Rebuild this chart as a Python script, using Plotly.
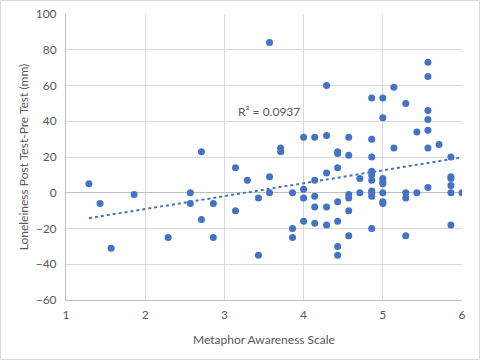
import numpy as np
import plotly.graph_objects as go

# Metaphor Awareness Scale (x) and Loneliness change (y)
x_vals = [1.29, 1.43, 1.57, 1.86, 2.29, 2.57, 2.57, 2.71, 2.71, 2.86, 2.86,
          3.14, 3.14, 3.29, 3.43, 3.43, 3.57, 3.57, 3.57, 3.71, 3.71,
          3.86, 3.86, 3.86, 4.0, 4.0, 4.0, 4.0,
          4.14, 4.14, 4.14, 4.14, 4.14,
          4.29, 4.29, 4.29, 4.29, 4.29,
          4.43, 4.43, 4.43, 4.43, 4.43, 4.43, 4.43,
          4.57, 4.57, 4.57, 4.57, 4.57, 4.57,
          4.71, 4.71,
          4.86, 4.86, 4.86, 4.86, 4.86, 4.86, 4.86, 4.86, 4.86, 4.86,
          5.0, 5.0, 5.0, 5.0, 5.0, 5.0, 5.0, 5.0,
          5.14, 5.14, 5.29, 5.29, 5.29, 5.29, 5.43, 5.43,
          5.57, 5.57, 5.57, 5.57, 5.57, 5.57, 5.57, 5.71,
          5.86, 5.86, 5.86, 5.86, 5.86, 5.86, 6.0]
y_vals = [5, -6, -31, -1, -25, 0, -6, 23, -15, -6, -25,
          14, -10, 7, -3, -35, 84, 9, 0, 25, 23,
          0, -20, -25, 31, 2, -3, -16,
          31, 7, -2, -8, -17,
          60, 32, 11, -8, -18,
          23, 22, 14, -5, -16, -30, -35,
          31, 21, -1, -3, -10, -24,
          8, 0,
          53, 30, 20, 12, 10, 7, 1, 0, -2, -20,
          53, 42, 8, 6, 5, 0, -5, -6,
          59, 25, 50, 0, -3, -24, 34, 0,
          73, 65, 46, 41, 35, 25, 3, 27,
          20, 9, 8, 4, 0, -18, 0]

x_ticks = [1, 2, 3, 4, 5, 6]
y_ticks = [-60, -40, -20, 0, 20, 40, 60, 80, 100]
r2_label = "R² = 0.0937"

xa = np.array(x_vals)
ya = np.array(y_vals)
slope, intercept = np.polyfit(xa, ya, 1)
tx = np.array([xa.min(), xa.max()])
ty = slope * tx + intercept

blue = "#4472C4"
grid = "#d9d9d9"
txt = "#595959"
font = "Lato"

fig = go.Figure()
fig.add_trace(go.Scatter(x=list(tx), y=list(ty), mode="lines",
                         line=dict(color=blue, width=2, dash="dot"),
                         hoverinfo="skip", showlegend=False))
fig.add_trace(go.Scatter(x=x_vals, y=y_vals, mode="markers",
                         marker=dict(color=blue, size=7), showlegend=False))

fig.add_annotation(x=3.56, y=45.5, text=r2_label, showarrow=False,
                   font=dict(family=font, size=12, color=txt))

W, H = 480, 360
ml, mr, mt, mb = 66, 18, 14, 60
pw, ph = W - ml - mr, H - mt - mb
fig.add_shape(type="rect", xref="paper", yref="paper",
              x0=(-ml + 0.5) / pw, x1=1 + (mr - 0.5) / pw,
              y0=(-mb + 0.5) / ph, y1=1 + (mt - 0.5) / ph,
              line=dict(color=grid, width=1), layer="below")

fig.update_layout(
    width=W, height=H,
    margin=dict(l=ml, r=mr, t=mt, b=mb),
    paper_bgcolor="white", plot_bgcolor="white",
    font=dict(family=font, size=12, color=txt),
    xaxis=dict(range=[1, 6], tickvals=x_ticks, showgrid=True, gridcolor=grid,
               zeroline=False, showline=True, linecolor="#bfbfbf",
               ticks="", automargin=False, ticklabelstandoff=4,
               title=dict(text="Metaphor Awareness Scale", standoff=14,
                          font=dict(size=12, color=txt)),
               tickfont=dict(size=12, color=txt)),
    yaxis=dict(range=[-60, 100], tickvals=y_ticks, showgrid=True, gridcolor=grid,
               zeroline=True, zerolinecolor="#bfbfbf", zerolinewidth=1,
               showline=True, linecolor="#bfbfbf", ticks="",
               ticklabelstandoff=6, automargin=False,
               title=dict(text="Loneleiness Post Test-Pre Test (mm)", standoff=4,
                          font=dict(size=12, color=txt)),
               tickfont=dict(size=12, color=txt)),
)

fig.write_html("out.html", config={"displayModeBar": False},
               post_script="document.body.style.margin='0';document.body.style.padding='0';")
